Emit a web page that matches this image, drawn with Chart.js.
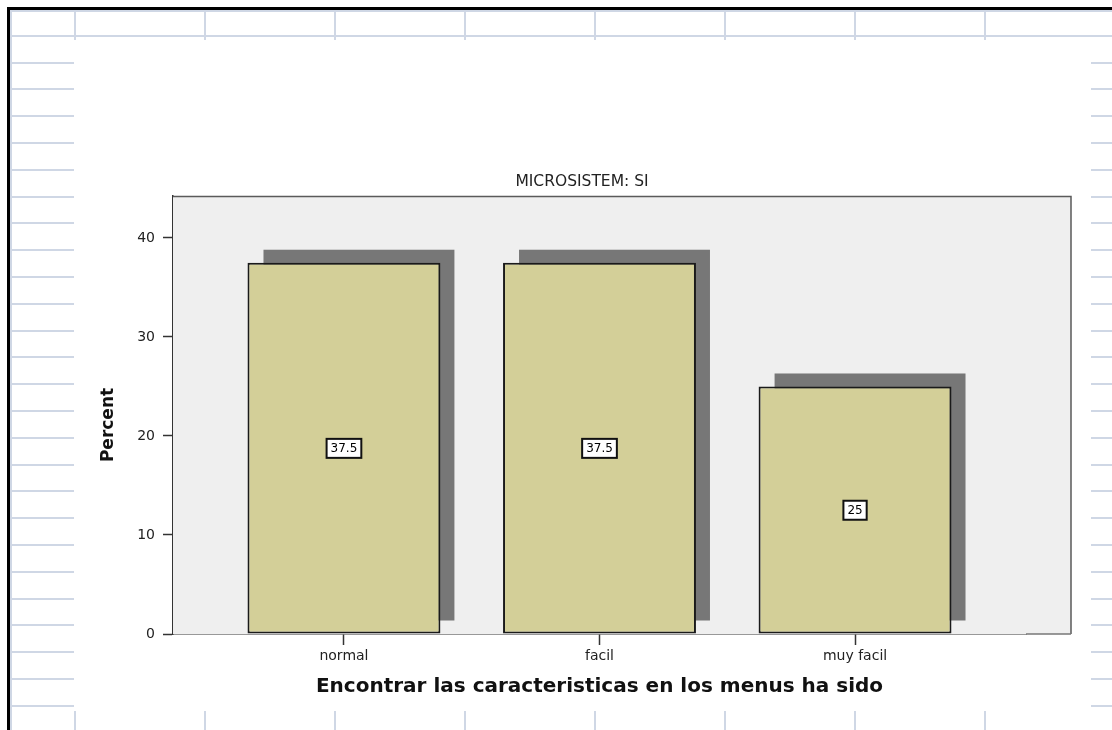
<!DOCTYPE html>
<html>
<head>
<meta charset="utf-8">
<script src="https://cdn.jsdelivr.net/npm/chart.js@4/dist/chart.umd.min.js"></script>
<style>
  html, body { margin: 0; padding: 0; background: #ffffff; }
  #wrap { width: 1112px; height: 730px; }
</style>
</head>
<body>
<div id="wrap"><canvas id="chart" width="1112" height="730"></canvas></div>
<script>
// Percent of answers per category
const categories = ['normal', 'facil', 'muy facil'];
const percentValues = [37.5, 37.5, 25];
const yTickValues = [0, 10, 20, 30, 40];

const panelCaption = 'MICROSISTEM: SI';
const xAxisTitle = 'Encontrar las caracteristicas en los menus ha sido';
const yAxisTitle = 'Percent';

// Look of the worksheet the chart sits on
const sheet = {
  line: '#cfd7e5',
  colStep: 130,
  colStart: 75,
  colCount: 8,
  rowStart: 62.7,
  rowStep: 26.79,
  rowCount: 25
};

const FONT = '"DejaVu Sans", Verdana, sans-serif';

// Worksheet background with cell lines around the chart object
const sheetPlugin = {
  id: 'sheet',
  beforeDraw(chart) {
    const ctx = chart.ctx;
    const W = chart.width, H = chart.height;
    ctx.save();
    ctx.fillStyle = '#ffffff';
    ctx.fillRect(0, 0, W, H);
    ctx.strokeStyle = sheet.line;
    ctx.lineWidth = 2;
    ctx.beginPath();
    // header row
    ctx.moveTo(10, 11); ctx.lineTo(W, 11);
    ctx.moveTo(10, 36); ctx.lineTo(W, 36);
    // left edge of the cells
    ctx.moveTo(11, 10); ctx.lineTo(11, H);
    for (let k = 0; k < sheet.colCount; k++) {
      const x = sheet.colStart + k * sheet.colStep;
      ctx.moveTo(x, 11); ctx.lineTo(x, 40);
      ctx.moveTo(x, 711); ctx.lineTo(x, H);
    }
    for (let k = 0; k < sheet.rowCount; k++) {
      const y = Math.round(sheet.rowStart + k * sheet.rowStep);
      ctx.moveTo(11, y); ctx.lineTo(74, y);
      ctx.moveTo(1091, y); ctx.lineTo(W, y);
    }
    ctx.stroke();
    // sheet frame
    ctx.fillStyle = '#000000';
    ctx.fillRect(7, 7, W - 7, 3);
    ctx.fillRect(7, 7, 3, H - 7);
    ctx.restore();
  }
};

// Grey panel behind the bars, its frame and the bar drop shadows
const panelPlugin = {
  id: 'panel',
  beforeDatasetsDraw(chart) {
    const {ctx, chartArea: a} = chart;
    const extra = 45;
    ctx.save();
    ctx.fillStyle = '#efefef';
    ctx.fillRect(a.left, a.top, a.right - a.left + extra, a.bottom - a.top);
    ctx.strokeStyle = '#5a5a5a';
    ctx.lineWidth = 1.5;
    ctx.beginPath();
    ctx.moveTo(a.left, a.top + 0.5);
    ctx.lineTo(a.right + extra, a.top + 0.5);
    ctx.lineTo(a.right + extra, a.bottom);
    ctx.stroke();
    ctx.strokeStyle = '#777777';
    ctx.lineWidth = 1.5;
    ctx.beginPath();
    ctx.moveTo(a.right, a.bottom);
    ctx.lineTo(a.right + extra, a.bottom);
    ctx.stroke();

    // drop shadows, offset up and to the right of each bar
    const dx = 16, dy = 13;
    ctx.fillStyle = '#777777';
    chart.getDatasetMeta(0).data.forEach(bar => {
      const p = bar.getProps(['x', 'y', 'base', 'width'], true);
      ctx.fillRect(p.x - p.width / 2 + dx, p.y - dy, p.width - 2, p.base - p.y);
    });
    ctx.restore();
  },
  afterDatasetsDraw(chart) {
    const ctx = chart.ctx;
    const yScale = chart.scales.y;
    ctx.save();
    ctx.font = '12px ' + FONT;
    ctx.textAlign = 'center';
    ctx.textBaseline = 'middle';
    chart.getDatasetMeta(0).data.forEach((bar, i) => {
      const v = percentValues[i];
      const text = String(v);
      const cx = bar.x;
      const cy = yScale.getPixelForValue(v / 2);
      const w = ctx.measureText(text).width + 8;
      const h = 19;
      ctx.fillStyle = '#ffffff';
      ctx.fillRect(cx - w / 2, cy - h / 2, w, h);
      ctx.strokeStyle = '#111111';
      ctx.lineWidth = 2;
      ctx.strokeRect(cx - w / 2, cy - h / 2, w, h);
      ctx.fillStyle = '#000000';
      ctx.fillText(text, cx, cy + 1);
    });
    ctx.restore();
  },
  afterDraw(chart) {
    const ctx = chart.ctx;
    ctx.save();
    ctx.fillStyle = '#222222';
    ctx.textAlign = 'center';
    ctx.textBaseline = 'middle';
    ctx.font = '15.5px ' + FONT;
    ctx.fillText(panelCaption, 582, 182);
    ctx.translate(109, 425);
    ctx.rotate(-Math.PI / 2);
    ctx.fillStyle = '#111111';
    ctx.font = 'bold 17px ' + FONT;
    ctx.fillText(yAxisTitle, 0, 0);
    ctx.restore();
  }
};

new Chart(document.getElementById('chart'), {
  type: 'bar',
  data: {
    datasets: [{
      label: yAxisTitle,
      data: percentValues.map((v, i) => ({x: i, y: v})),
      backgroundColor: '#d3cf98',
      borderColor: '#1a1a1a',
      borderWidth: 2,
      borderSkipped: false,
      categoryPercentage: 1,
      barPercentage: 0.755
    }]
  },
  options: {
    responsive: false,
    devicePixelRatio: 1,
    animation: false,
    layout: { padding: { left: 95, right: 86, top: 196, bottom: 27 } },
    plugins: {
      legend: { display: false },
      tooltip: { enabled: false },
      title: { display: false }
    },
    scales: {
      x: {
        type: 'linear',
        min: -0.669,
        max: 2.669,
        offset: false,
        afterFit(scale) { scale.height = 69; },
        afterBuildTicks(scale) { scale.ticks = categories.map((_, i) => ({value: i})); },
        ticks: {
          callback: v => categories[v],
          font: { family: FONT, size: 14 },
          color: '#222222',
          padding: 3,
          maxRotation: 0,
          autoSkip: false
        },
        grid: {
          display: true,
          offset: false,
          drawOnChartArea: false,
          drawTicks: true,
          tickLength: 11,
          tickColor: '#333333',
          tickWidth: 1.5
        },
        border: { display: true, color: '#333333', width: 1.5 },
        title: {
          display: true,
          text: xAxisTitle,
          font: { family: FONT, size: 20, weight: 'bold' },
          color: '#111111',
          padding: { top: 4, bottom: 4 }
        }
      },
      y: {
        min: 0,
        max: 44.24,
        afterFit(scale) { scale.width = 78; },
        afterBuildTicks(scale) { scale.ticks = yTickValues.map(v => ({value: v})); },
        ticks: {
          font: { family: FONT, size: 14 },
          color: '#222222',
          padding: 8
        },
        grid: {
          display: true,
          drawOnChartArea: false,
          drawTicks: true,
          tickLength: 10,
          tickColor: '#333333',
          tickWidth: 1.5
        },
        border: { display: true, color: '#333333', width: 1.5 },
        title: { display: false }
      }
    }
  },
  plugins: [sheetPlugin, panelPlugin]
});
</script>
</body>
</html>
